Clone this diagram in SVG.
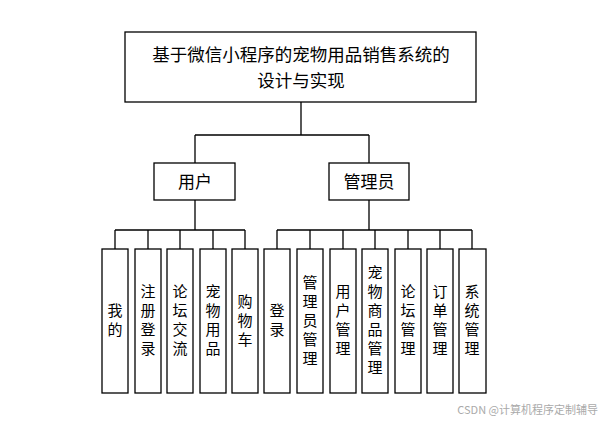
<svg xmlns="http://www.w3.org/2000/svg" width="604" height="423" viewBox="0 0 604 423">
<style>
rect{fill:#fff;stroke:#000;stroke-width:1.3}
text{font-family:"Noto Sans CJK SC","Liberation Sans",sans-serif;fill:#000;text-anchor:middle}
.t{font-size:17.5px}.m{font-size:17px}.s{font-size:15px}
#conn path{fill:none;stroke:#000;stroke-width:1.3}
</style>
<rect width="604" height="423" style="stroke:none"/>
<g id="conn">
<path d="M301 102V135M195 135H369M195 135V163M369 135V163"/>
<path d="M195 200V230M115 230H245M115 230V249M148 230V249M180 230V249M213 230V249M245 230V249"/>
<path d="M369 200V230M277 230H472M277 230V249M310 230V249M343 230V249M375 230V249M408 230V249M440 230V249M472 230V249"/>
</g>
<g id="root"><rect x="125" y="32" width="351" height="70"/>
<text class="t" x="301" y="61">基于微信小程序的宠物用品销售系统的</text>
<text class="t" x="301" y="87">设计与实现</text></g>
<g id="user"><rect x="154" y="163" width="81" height="37"/><text class="m" x="195" y="188">用户</text></g>
<g id="admin"><rect x="329" y="163" width="80" height="37"/><text class="m" x="369" y="188">管理员</text></g>
<g id="u1"><rect x="102" y="249" width="26" height="144"/><text class="s" x="115" y="316">我<tspan x="115" dy="19">的</tspan></text></g>
<g id="u2"><rect x="135" y="249" width="26" height="144"/><text class="s" x="148" y="297">注<tspan x="148" dy="19">册</tspan><tspan x="148" dy="19">登</tspan><tspan x="148" dy="19">录</tspan></text></g>
<g id="u3"><rect x="167" y="249" width="26" height="144"/><text class="s" x="180" y="297">论<tspan x="180" dy="19">坛</tspan><tspan x="180" dy="19">交</tspan><tspan x="180" dy="19">流</tspan></text></g>
<g id="u4"><rect x="200" y="249" width="26" height="144"/><text class="s" x="213" y="297">宠<tspan x="213" dy="19">物</tspan><tspan x="213" dy="19">用</tspan><tspan x="213" dy="19">品</tspan></text></g>
<g id="u5"><rect x="232" y="249" width="26" height="144"/><text class="s" x="245" y="307">购<tspan x="245" dy="19">物</tspan><tspan x="245" dy="19">车</tspan></text></g>
<g id="a1"><rect x="264" y="249" width="26" height="144"/><text class="s" x="277" y="316">登<tspan x="277" dy="19">录</tspan></text></g>
<g id="a2"><rect x="297" y="249" width="26" height="144"/><text class="s" x="310" y="288">管<tspan x="310" dy="19">理</tspan><tspan x="310" dy="19">员</tspan><tspan x="310" dy="19">管</tspan><tspan x="310" dy="19">理</tspan></text></g>
<g id="a3"><rect x="330" y="249" width="26" height="144"/><text class="s" x="343" y="297">用<tspan x="343" dy="19">户</tspan><tspan x="343" dy="19">管</tspan><tspan x="343" dy="19">理</tspan></text></g>
<g id="a4"><rect x="362" y="249" width="26" height="144"/><text class="s" x="375" y="278">宠<tspan x="375" dy="19">物</tspan><tspan x="375" dy="19">商</tspan><tspan x="375" dy="19">品</tspan><tspan x="375" dy="19">管</tspan><tspan x="375" dy="19">理</tspan></text></g>
<g id="a5"><rect x="395" y="249" width="26" height="144"/><text class="s" x="408" y="297">论<tspan x="408" dy="19">坛</tspan><tspan x="408" dy="19">管</tspan><tspan x="408" dy="19">理</tspan></text></g>
<g id="a6"><rect x="427" y="249" width="26" height="144"/><text class="s" x="440" y="297">订<tspan x="440" dy="19">单</tspan><tspan x="440" dy="19">管</tspan><tspan x="440" dy="19">理</tspan></text></g>
<g id="a7"><rect x="459" y="249" width="27" height="144"/><text class="s" x="472" y="297">系<tspan x="472" dy="19">统</tspan><tspan x="472" dy="19">管</tspan><tspan x="472" dy="19">理</tspan></text></g>
<text x="598" y="414" style="font-size:11px;fill:#aaa;text-anchor:end">CSDN @计算机程序定制辅导</text>
</svg>
